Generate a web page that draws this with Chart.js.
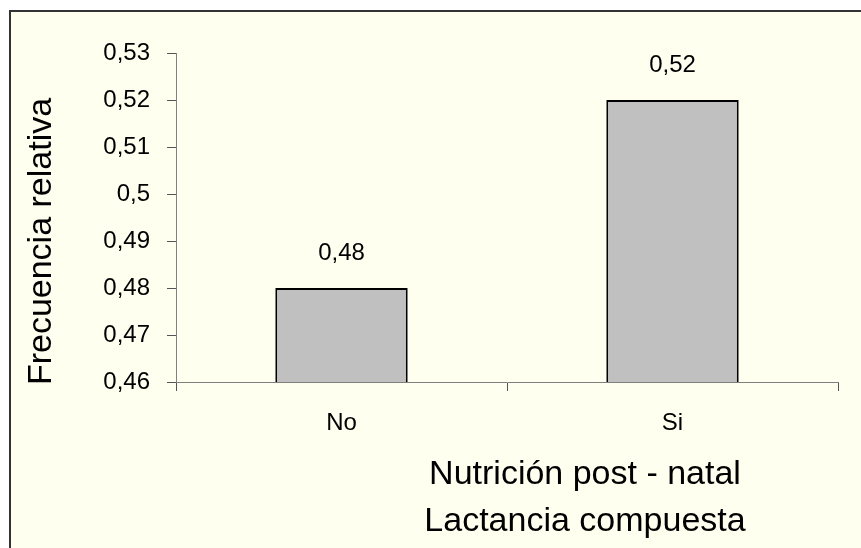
<!DOCTYPE html>
<html>
<head>
<meta charset="utf-8">
<script src="https://cdn.jsdelivr.net/npm/chart.js@4/dist/chart.umd.min.js"></script>
<style>
  html, body { margin: 0; padding: 0; background: #ffffff; width: 861px; height: 548px; overflow: hidden; }
  #frame { position: absolute; left: 9px; top: 10px; width: 900px; height: 600px; background: #FFFFF0; border-top: 2px solid #333; border-left: 2px solid #333; }
  #wrap { position: absolute; left: 0; top: 0; width: 861px; height: 548px; }
</style>
</head>
<body>
<div id="frame"></div>
<div id="wrap"><canvas id="c" width="861" height="548"></canvas></div>
<script>
const categories = ["No", "Si"];
const values = [0.48, 0.52];
const yTickValues = [0.46, 0.47, 0.48, 0.49, 0.5, 0.51, 0.52, 0.53];
const yTitle = "Frecuencia relativa";
const xTitleLines = ["Nutrición post - natal", "Lactancia compuesta"];

const FONT = '"Liberation Sans", Arial, sans-serif';
const fmt = v => String(Math.round(v * 100) / 100).replace('.', ',');

const labelsPlugin = {
  id: 'customText',
  afterDatasetsDraw(chart) {
    const ctx = chart.ctx;
    ctx.save();
    ctx.fillStyle = '#000';
    ctx.font = '24px ' + FONT;
    ctx.textAlign = 'center';
    ctx.textBaseline = 'middle';
    const meta = chart.getDatasetMeta(0);
    meta.data.forEach((bar, i) => {
      ctx.fillText(fmt(values[i]), bar.x, bar.y - 35);
    });
    ctx.restore();
  },
  afterDraw(chart) {
    const ctx = chart.ctx;
    const ca = chart.chartArea;
    ctx.save();
    ctx.fillStyle = '#000';
    ctx.font = '34px ' + FONT;
    ctx.textAlign = 'center';
    ctx.textBaseline = 'alphabetic';
    const cx = (ca.left + ca.right) / 2 + 78;
    ctx.fillText(xTitleLines[0], cx, ca.bottom + 102);
    ctx.fillText(xTitleLines[1], cx, ca.bottom + 149);
    ctx.translate(51, (ca.top + ca.bottom) / 2 + 24);
    ctx.rotate(-Math.PI / 2);
    ctx.fillText(yTitle, 0, 0);
    ctx.restore();
  }
};

new Chart(document.getElementById('c'), {
  type: 'bar',
  data: {
    labels: categories,
    datasets: [{
      data: values,
      backgroundColor: '#C0C0C0',
      borderColor: '#000000',
      borderWidth: 2,
      borderSkipped: false,
      categoryPercentage: 1.0,
      barPercentage: 0.4
    }]
  },
  options: {
    responsive: false,
    animation: false,
    events: [],
    layout: { padding: { left: 0, top: 53, right: 23, bottom: 0 } },
    plugins: { legend: { display: false }, tooltip: { enabled: false }, title: { display: false } },
    scales: {
      x: {
        offset: true,
        grid: { display: true, drawOnChartArea: false, offset: true, tickLength: 9, color: '#555', lineWidth: 1 },
        border: { display: true, color: '#808080', width: 1 },
        ticks: { color: '#000', font: { family: FONT, size: 24 }, padding: 18, maxRotation: 0 },
        afterFit(s) { s.height = 548 - 382; }
      },
      y: {
        min: 0.46,
        max: 0.53,
        afterBuildTicks(s) { s.ticks = yTickValues.map(v => ({ value: v })); },
        grid: { display: true, drawOnChartArea: false, tickLength: 9, color: '#555', lineWidth: 1 },
        border: { display: true, color: '#808080', width: 1 },
        ticks: { color: '#000', font: { family: FONT, size: 24 }, padding: 17, callback: v => fmt(v) },
        afterFit(s) { s.width = 176; }
      }
    }
  },
  plugins: [labelsPlugin]
});
</script>
</body>
</html>
